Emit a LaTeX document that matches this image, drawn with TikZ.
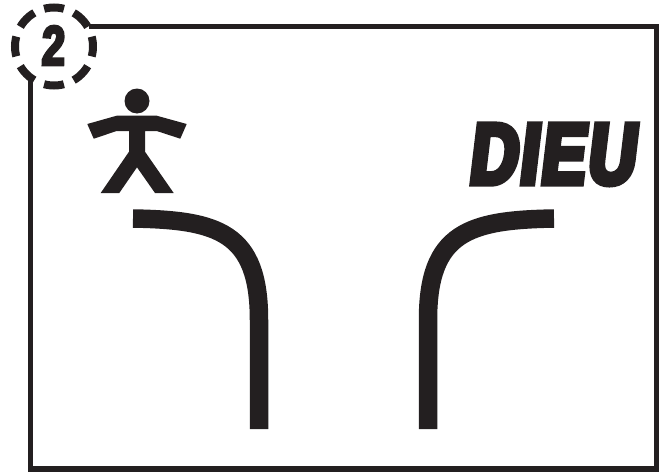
\documentclass[tikz,border=0pt]{standalone}
\usepackage{fontspec}
\usepackage{xcolor}
\newfontfamily\signfont[FakeSlant=0.12,FakeStretch=0.77,FakeBold=7,LetterSpace=3]{Liberation Sans Bold}
\newfontfamily\numberfont[FakeSlant=0.03,FakeStretch=0.74,FakeBold=5]{Liberation Sans Bold}
\definecolor{inkblack}{HTML}{231F20}
\tikzset{
  frameline/.style={inkblack,line width=5.5pt,line cap=butt},
  roadline/.style={inkblack,line width=18.5pt,line cap=butt},
  signtext/.style={inkblack,inner sep=0pt},
}
\begin{document}
\begin{tikzpicture}[x=1pt,y=-1pt]
\useasboundingbox (0,0) rectangle (662,474);
% frame
\draw[frameline] (89,26.7)--(656.5,26.7)--(656.5,469)--(30.5,469)--(30.5,80);
% number in its ring
\draw[inkblack,line width=8pt,dash pattern=on 20pt off 10.63pt,dash phase=10pt] (54,46.5) circle (39);
\node[signtext] (number) at (53,45.5) {\numberfont\fontsize{56}{56}\selectfont 2};
% person
\fill[inkblack] (137,101) circle (12.5);
\fill[inkblack] (87.3,124)--(116.7,115.7)--(156.7,115.7)--(186.7,124)--(180.3,138.7)--(156.7,131)--(145,131)--(145,151.7)--(173.7,193)--(155,193)--(137,167.3)--(119.3,193)--(100.7,193)--(129,151.7)--(129,131)--(116.7,131)--(93.7,138.7)--cycle;
\node[signtext] (god) at (551,154.5) {\signfont\fontsize{86}{86}\selectfont DIEU};
% two roads
\draw[roadline] (133,218.5) .. controls (218,220) and (259,232) .. (259,320)--(259,429);
\draw[roadline] (554,218.5) .. controls (469,220) and (428,232) .. (428,320)--(428,429);
\end{tikzpicture}
\end{document}
